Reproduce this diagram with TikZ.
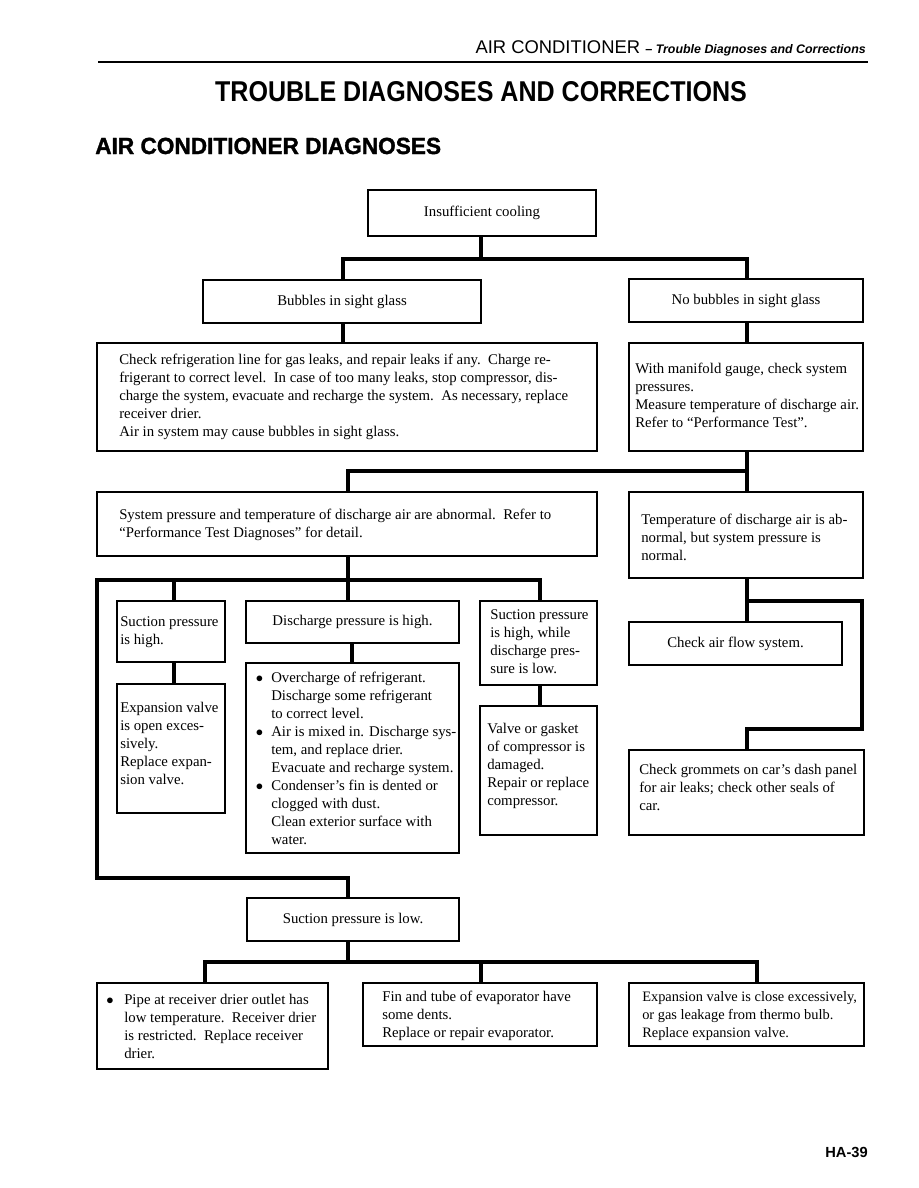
\documentclass[tikz,border=0pt]{standalone}
\usepackage{fontspec}
\setmainfont{Liberation Serif}
\newfontfamily\hsans{Liberation Sans}
\newfontfamily\hsansheavy{Liberation Sans Bold}[FakeBold=1.4]
\usetikzlibrary{fit,calc}
\begin{document}
\begin{tikzpicture}[x=0.75pt,y=-0.75pt,
  box/.style={draw, line width=1.4pt, inner sep=0pt},
  conn/.style={line width=2.4pt},
  txt/.style={anchor=north west, inner sep=0pt, align=left, font=\fontsize{11.1}{13.5}\selectfont},
  ctxt/.style={inner sep=0pt, font=\fontsize{11.1}{13.5}\selectfont}]
\useasboundingbox (0,0) rectangle (918,1188);
% header
\node[anchor=base east, inner sep=0pt] (hdr) at (866,54) {\hsans\fontsize{13.8}{16}\selectfont AIR CONDITIONER \fontsize{9.5}{12}\selectfont\bfseries – \itshape\fontsize{9.3}{12}\selectfont Trouble Diagnoses and Corrections};
\coordinate (rl) at (98,62);
\coordinate (rr) at (868,62);
\draw[line width=1.4pt] (rl) -- (rr);
\node[inner sep=0pt] (title) at (481,92) {\scalebox{0.874}[1]{\hsans\bfseries\fontsize{21.5}{24}\selectfont TROUBLE DIAGNOSES AND CORRECTIONS}};
\node[anchor=base west, inner sep=0pt] (sub) at (95,154) {\scalebox{0.97}[1]{\hsansheavy\fontsize{17.5}{20}\selectfont AIR CONDITIONER DIAGNOSES}};
\node[anchor=base east, inner sep=0pt] (pg) at (868,1157) {\hsans\bfseries\fontsize{11}{13}\selectfont HA-39};

% boxes
\node[box, line width=1.8pt, fit={(368,190) (596,236)}] (b1) {};
\node[ctxt] (t1) at (b1.center) {Insufficient cooling};
\node[box, fit={(203,280) (481,323)}] (b2) {};
\node[ctxt] (t2) at (b2.center) {Bubbles in sight glass};
\node[box, fit={(629,279) (863,322)}] (b3) {};
\node[ctxt] (t3) at (b3.center) {No bubbles in sight glass};
\node[box, fit={(97,343) (597,451)}] (b4) {};
\node[txt] (t4) at (119,351.5) {\strut Check refrigeration line for gas leaks, and repair leaks if any.\ \ Charge re-\\frigerant to correct level.\ \ In case of too many leaks, stop compressor, dis-\\charge the system, evacuate and recharge the system.\ \ As necessary, replace\\receiver drier.\\Air in system may cause bubbles in sight glass.};
\node[box, fit={(629,343) (863,451)}] (b5) {};
\node[txt] (t5) at (635,360.5) {\strut With manifold gauge, check system\\pressures.\\Measure temperature of discharge air.\\Refer to “Performance Test”.};
\node[box, fit={(97,492) (597,556)}] (b6) {};
\node[txt] (t6) at (119,506.5) {\strut System pressure and temperature of discharge air are abnormal.\ \ Refer to\\“Performance Test Diagnoses” for detail.};
\node[box, fit={(629,492) (863,578)}] (b7) {};
\node[txt] (t7) at (641,511.5) {\strut Temperature of discharge air is ab-\\normal, but system pressure is\\normal.};
\node[box, fit={(117,601) (225,662)}] (b8) {};
\node[txt] (t8) at (120,613.5) {\strut Suction pressure\\is high.};
\node[box, fit={(117,684) (225,813)}] (b11) {};
\node[txt] (t11) at (120,699.5) {\strut Expansion valve\\is open exces-\\sively.\\Replace expan-\\sion valve.};
\node[box, fit={(246,601) (459,643)}] (b9) {};
\node[ctxt] (t9) at (b9.center) {Discharge pressure is high.};
\node[box, fit={(246,663) (459,853)}] (b12) {};
\node[txt] (t12) at (271,669.5) {\strut\llap{$\bullet$\hspace{6pt}}Overcharge of refrigerant.\\Discharge some refrigerant\\to correct level.\\\llap{$\bullet$\hspace{6pt}}Air is mixed in. Discharge sys-\\tem, and replace drier.\\Evacuate and recharge system.\\\llap{$\bullet$\hspace{6pt}}Condenser’s fin is dented or\\clogged with dust.\\Clean exterior surface with\\water.};
\node[box, fit={(480,601) (597,685)}] (b10) {};
\node[txt] (t10) at (490,606.5) {\strut Suction pressure\\is high, while\\discharge pres-\\sure is low.};
\node[box, fit={(480,706) (597,835)}] (b13) {};
\node[txt] (t13) at (487,720.5) {\strut Valve or gasket\\of compressor is\\damaged.\\Repair or replace\\compressor.};
\node[box, fit={(629,622) (842,665)}] (b14) {};
\node[ctxt] (t14) at (b14.center) {Check air flow system.};
\node[box, fit={(629,750) (864,835)}] (b15) {};
\node[txt] (t15) at (639,761.5) {\strut Check grommets on car’s dash panel\\for air leaks; check other seals of\\car.};
\node[box, fit={(247,898) (459,941)}] (b19) {};
\node[ctxt] (t19) at (b19.center) {Suction pressure is low.};
\node[box, fit={(97,983) (328,1069)}] (b16) {};
\node[txt] (t16) at (124,991.5) {\strut\llap{$\bullet$\hspace{8pt}}Pipe at receiver drier outlet has\\low temperature.\ \ Receiver drier\\is restricted.\ \ Replace receiver\\drier.};
\node[box, fit={(363,983) (597,1046)}] (b17) {};
\node[txt] (t17) at (382,988.5) {\strut Fin and tube of evaporator have\\some dents.\\Replace or repair evaporator.};
\node[box, fit={(629,983) (864,1046)}] (b18) {};
\node[txt, font=\fontsize{10.8}{13.5}\selectfont] (t18) at (642,988.5) {\strut Expansion valve is close excessively,\\or gas leakage from thermo bulb.\\Replace expansion valve.};

% connectors
\coordinate (j1) at (481,259);
\coordinate (j1l) at (343,259);
\coordinate (j1r) at (747,259);
\draw[conn] (j1 |- b1.south) -- (j1);
\draw[conn] (b2.north -| j1l) -- (j1l) -- (j1r) -- (j1r |- b3.north);
\draw[conn] (j1l |- b2.south) -- (j1l |- b4.north);
\draw[conn] (j1r |- b3.south) -- (j1r |- b5.north);
\coordinate (j2) at (747,471);
\coordinate (j2l) at (348,471);
\draw[conn] (j1r |- b5.south) -- (j2) -- (j2 |- b7.north);
\draw[conn] (j2) -- (j2l) -- (j2l |- b6.north);
\coordinate (j3) at (348,580);
\coordinate (j3l) at (97,580);
\coordinate (j3r) at (540,580);
\coordinate (j3a) at (174,580);
\draw[conn] (j2l |- b6.south) -- (j3) -- (j3 |- b9.north);
\draw[conn] (j3r |- b10.north) -- (j3r) -- (j3l) -- (97,878) coordinate (j4l) -- (348,878) coordinate (j4) -- (j4 |- b19.north);
\draw[conn] (j3a) -- (j3a |- b8.north);
\draw[conn] (j3a |- b8.south) -- (j3a |- b11.north);
\coordinate (j5) at (352,643);
\draw[conn] (j5 |- b9.south) -- (j5 |- b12.north);
\draw[conn] (j3r |- b10.south) -- (j3r |- b13.north);
\coordinate (j6) at (747,601);
\coordinate (j6r) at (862,601);
\coordinate (j7r) at (862,729);
\coordinate (j7) at (747,729);
\draw[conn] (j6 |- b7.south) -- (j6) -- (j6 |- b14.north);
\draw[conn] (j6) -- (j6r) -- (j7r) -- (j7) -- (j7 |- b15.north);
\coordinate (j8) at (348,962);
\coordinate (j8l) at (205,962);
\coordinate (j8m) at (481,962);
\coordinate (j8r) at (757,962);
\draw[conn] (j8 |- b19.south) -- (j8);
\draw[conn] (j8l |- b16.north) -- (j8l) -- (j8r) -- (j8r |- b18.north);
\draw[conn] (j8m) -- (j8m |- b17.north);
\end{tikzpicture}
\end{document}
